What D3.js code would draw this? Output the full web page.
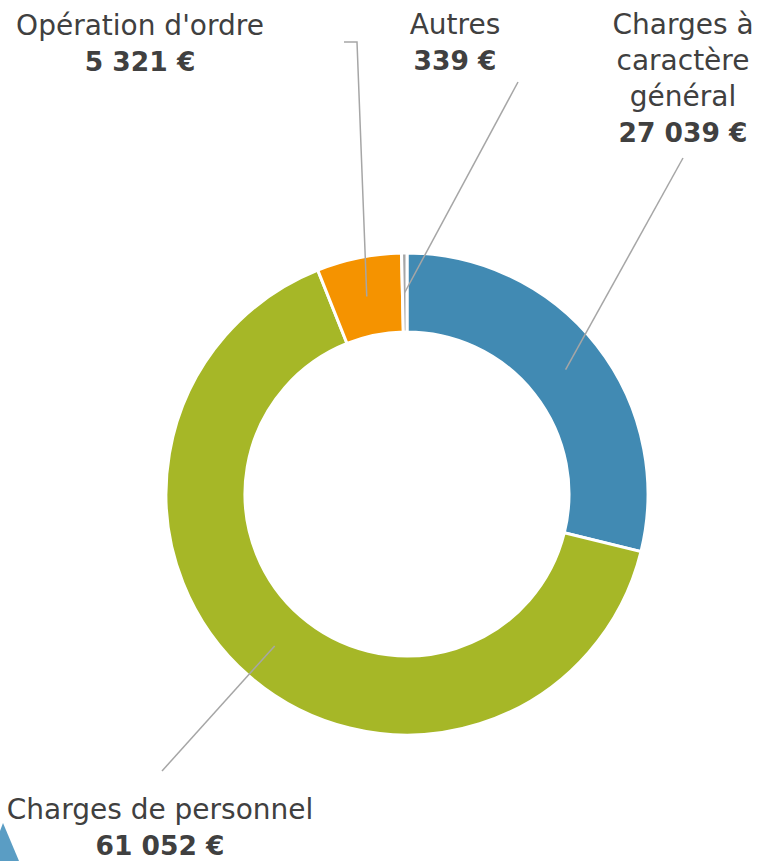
<!DOCTYPE html>
<html><head><meta charset="utf-8">
<script src="https://cdn.jsdelivr.net/npm/d3@7"></script>
<style>
html,body{margin:0;padding:0;background:#fff;}
svg{display:block;}
text{font-family:"DejaVu Sans",sans-serif;fill:#404040;}
</style></head>
<body>
<script>
// Data
const categories = ["Charges à caractère général", "Charges de personnel", "Opération d'ordre", "Autres"];
const values = [27039, 61052, 5321, 339];
const valueLabels = ["27 039 €", "61 052 €", "5 321 €", "339 €"];
const nameLines = [["Charges à", "caractère", "général"], ["Charges de personnel"], ["Opération d'ordre"], ["Autres"]];
const colors = ["#418AB3", "#A6B727", "#F59300", "#A6A6A6"];

// Layout
const W = 757, H = 861;
const cx = 407, cy = 494, rOuter = 241, rInner = 162;
const labelLayout = [
  {x: 683, y: 34, line: [[683, 158]]},
  {x: 160, y: 819, line: [[162, 771]]},
  {x: 140, y: 35, line: [[357, 42], [344, 42]]},
  {x: 455, y: 34, line: [[518, 82]]}
];
const lineH = 36;

const svg = d3.select("body").append("svg").attr("width", W).attr("height", H);

// decorative corner shape
svg.append("path").attr("d", "M0,831 L3,823 L19,861 L0,861 Z").attr("fill", "#5A9DC4");

const pie = d3.pie().sort(null).value(d => d);
const arcs = pie(values);
const arc = d3.arc().innerRadius(rInner).outerRadius(rOuter);
const midArc = d3.arc().innerRadius((rInner + rOuter) / 2).outerRadius((rInner + rOuter) / 2);

const g = svg.append("g").attr("transform", `translate(${cx},${cy})`);
g.selectAll("path").data(arcs).join("path")
  .attr("d", arc)
  .attr("fill", (d, i) => colors[i])
  .attr("stroke", "#fff").attr("stroke-width", 3).attr("stroke-linejoin", "miter");

// leader lines
arcs.forEach((d, i) => {
  const c = midArc.centroid(d);
  const pts = [[c[0] + cx, c[1] + cy], ...labelLayout[i].line];
  svg.append("path").attr("d", d3.line()(pts))
    .attr("fill", "none").attr("stroke", "#A6A6A6").attr("stroke-width", 1.5);
});

// labels
arcs.forEach((d, i) => {
  const L = labelLayout[i];
  const t = svg.append("text").attr("text-anchor", "middle").attr("font-size", 28);
  nameLines[i].forEach((ln, j) => {
    t.append("tspan").attr("x", L.x).attr("y", L.y + j * lineH).text(ln);
  });
  t.append("tspan").attr("x", L.x).attr("y", L.y + nameLines[i].length * lineH)
    .attr("font-weight", "bold").attr("font-size", 26.5).text(valueLabels[i]);
});
</script>
</body></html>
